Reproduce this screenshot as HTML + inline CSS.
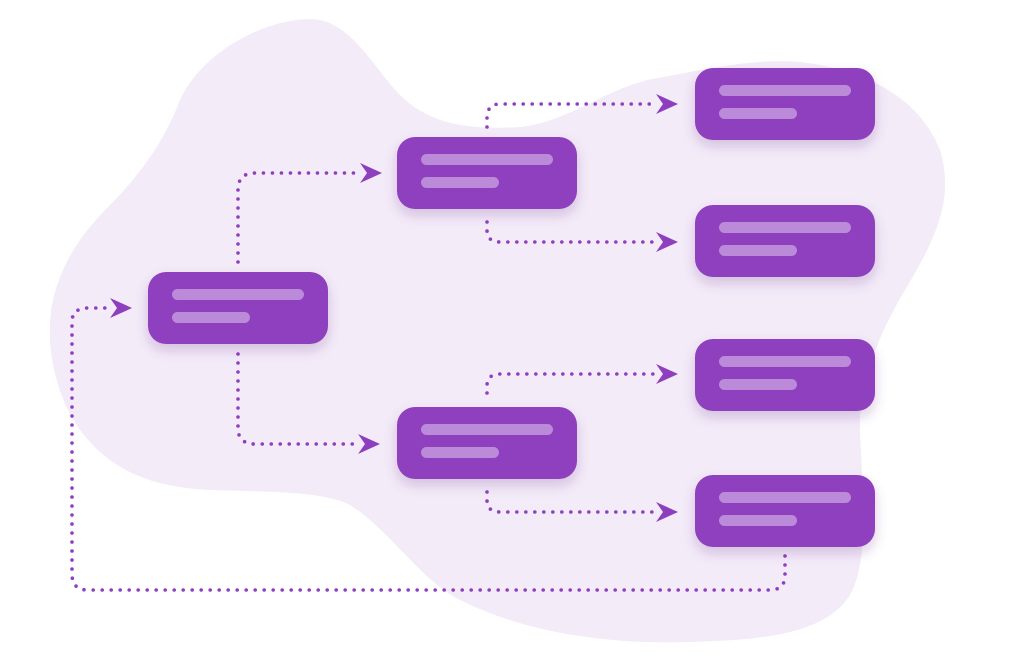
<!DOCTYPE html>
<html><head><meta charset="utf-8"><style>
html,body{margin:0;padding:0;background:#fff;}
svg{display:block;}
</style></head><body>
<svg width="1024" height="658" viewBox="0 0 1024 658" xmlns="http://www.w3.org/2000/svg">
<defs>
<filter id="sh" x="-20%" y="-30%" width="140%" height="170%">
<feDropShadow dx="0" dy="6" stdDeviation="6" flood-color="#5a2a80" flood-opacity="0.22"/>
</filter>
<g id="box">
<rect x="0" y="0" width="180" height="72" rx="18" fill="#8e3fbe" filter="url(#sh)"/>
<rect x="24" y="17" width="132" height="11" rx="5.5" fill="#bb8ad9"/>
<rect x="24" y="40" width="78" height="11" rx="5.5" fill="#bb8ad9"/>
</g>
<path id="arr" d="M0,0 L-22,-10 L-15,0 L-22,10 Z" fill="#8e3fbe"/>
</defs>
<path fill="#f3ebf8" d="M309,19 C350,18 375,70 400,95 C430,125 470,130 520,127 C570,122 610,85 658,78 C710,68 760,58 800,62 C870,70 920,100 940,150 C955,200 935,240 905,290 C875,340 858,390 860,430 C862,490 870,560 850,595 C825,635 760,640 690,642 C600,645 520,630 460,600 C420,580 390,530 350,505 C320,490 260,492 210,490 C150,487 110,470 80,430 C55,395 45,345 52,305 C60,265 80,235 110,205 C140,175 165,140 180,100 C200,55 260,20 309,19 Z"/>
<g fill="none" stroke="#8e3fbe" stroke-width="3.6" stroke-linecap="round" stroke-dasharray="0 9">
<path d="M238,262 L238,190 Q238,173 255,173 L362,173"/>
<path d="M238,354 L238,428 Q238,444 255,444 L360,444"/>
<path d="M487,127 L487,118 Q487,104 500,104 L658,104"/>
<path d="M487,222 L487,230 Q487,242 500,242 L658,242"/>
<path d="M487,393 L487,386 Q487,374 500,374 L658,374"/>
<path d="M487,492 L487,500 Q487,512 500,512 L658,512"/>
<path d="M785,556 L785,575 Q785,590 770,590 L88,590 Q72,590 72,574 L72,322 Q72,308 88,308 L112,308"/>
</g>
<use href="#arr" transform="translate(382,173)"/>
<use href="#arr" transform="translate(380,444)"/>
<use href="#arr" transform="translate(678,104)"/>
<use href="#arr" transform="translate(678,242)"/>
<use href="#arr" transform="translate(678,374)"/>
<use href="#arr" transform="translate(678,512)"/>
<use href="#arr" transform="translate(132,308)"/>
<use href="#box" transform="translate(148,272)"/>
<use href="#box" transform="translate(397,137)"/>
<use href="#box" transform="translate(397,407)"/>
<use href="#box" transform="translate(695,68)"/>
<use href="#box" transform="translate(695,205)"/>
<use href="#box" transform="translate(695,339)"/>
<use href="#box" transform="translate(695,475)"/>
</svg>
</body></html>
